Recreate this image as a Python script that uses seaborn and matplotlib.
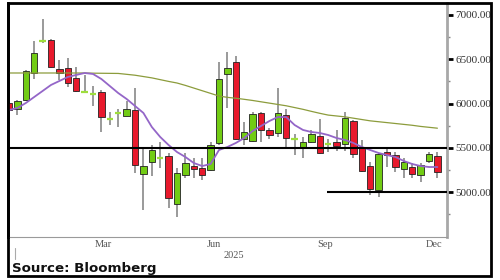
import numpy as np
import pandas as pd
import matplotlib
matplotlib.use("Agg")
import matplotlib.pyplot as plt
import matplotlib.dates as mdates
from matplotlib.patches import Rectangle
from matplotlib.transforms import blended_transform_factory
import seaborn as sns

# ---------------- data (weekly candles, 2025) ----------------
first_week = "2024-12-27"
opens = [6006, 5939, 6040, 6345, 6705, 6718, 6390, 6402, 6289, 6125,
         6100, 6131, 5820, 5890, 5860, 5927, 5205, 5340, 5380, 5408,
         4866, 5194, 5295, 5273, 5250, 5555, 6334, 6469, 5600, 5577,
         5894, 5702, 5668, 5871, 5595, 5498, 5566, 5634, 5545, 5566,
         5544, 5803, 5498, 5295, 5024, 5450, 5419, 5261, 5284, 5194,
         5352, 5408]
highs = [6020, 6040, 6380, 6706, 6955, 6725, 6492, 6515, 6413, 6323,
         6198, 6153, 5905, 5939, 6029, 6176, 5498, 5532, 5566, 5442,
         5273, 5442, 5386, 5386, 5566, 6469, 6582, 6537, 5792, 5905,
         5905, 5724, 6176, 5939, 5656, 5623, 5702, 5826, 5600, 5702,
         5905, 5810, 5589, 5340, 5440, 5510, 5453, 5386, 5329, 5329,
         5453, 5453]
lows = [5915, 5871, 6030, 6277, 6685, 6402, 6266, 6187, 6131, 6120,
        5973, 5679, 5758, 5736, 5855, 5216, 4798, 5182, 5273, 4821,
        4719, 5160, 5160, 5137, 5239, 5532, 5950, 5589, 5532, 5566,
        5566, 5600, 5623, 5498, 5419, 5386, 5555, 5431, 5453, 5465,
        5465, 5386, 5227, 4968, 4945, 5284, 5227, 5160, 5160, 5115,
        5329, 5160]
closes = [5927, 6029, 6368, 6571, 6718, 6413, 6345, 6232, 6142, 6135,
          6110, 5848, 5830, 5900, 5939, 5306, 5295, 5476, 5390, 4934,
          5216, 5329, 5261, 5194, 5532, 6277, 6402, 5600, 5679, 5882,
          5702, 5645, 5894, 5611, 5605, 5566, 5656, 5442, 5550, 5521,
          5837, 5431, 5239, 5036, 5431, 5420, 5284, 5340, 5205, 5306,
          5431, 5227]
ma_short = [5927, 5950, 6006, 6074, 6142, 6210, 6255, 6300, 6323, 6345,
            6334, 6277, 6198, 6119, 6052, 5973, 5894, 5736, 5623, 5532,
            5453, 5397, 5329, 5295, 5318, 5476, 5510, 5555, 5611, 5690,
            5747, 5803, 5848, 5848, 5758, 5702, 5679, 5668, 5645, 5611,
            5589, 5555, 5510, 5476, 5442, 5419, 5397, 5352, 5318, 5295,
            5284, 5284]
ma_long = [6345, 6345, 6345, 6345, 6345, 6345, 6345, 6345, 6345, 6345,
           6343, 6342, 6341, 6340, 6330, 6320, 6305, 6290, 6270, 6250,
           6232, 6205, 6175, 6145, 6115, 6085, 6070, 6060, 6048, 6035,
           6020, 6005, 5990, 5975, 5955, 5935, 5912, 5890, 5870, 5860,
           5850, 5835, 5820, 5805, 5795, 5785, 5775, 5765, 5755, 5742,
           5732, 5722]
resistance_level = 5500
support_level = 5000
support_start_week = 38
y_major = [5000, 5500, 6000, 6500, 7000]
y_minor = [4750, 5250, 5750, 6250, 6750]
month_labels = ["Mar", "Jun", "Sep", "Dec"]
month_label_dates = ["2025-03-16", "2025-06-16", "2025-09-16", "2025-12-16"]
year_label = "2025"
source_text = "Source: Bloomberg"

# ---------------- styling ----------------
sns.set_style("white")
plt.rcParams["font.family"] = ["DejaVu Sans"]

GREEN = "#72cc14"
RED = "#e8192c"
WICK = "#9a9a9a"
PURPLE = "#9466c8"
OLIVE = "#8c9c3c"
DOJI = "#9ede3c"

dates = pd.date_range(first_week, periods=len(opens), freq="7D")
df = pd.DataFrame({"date": dates, "open": opens, "high": highs,
                   "low": lows, "close": closes,
                   "ma_short": ma_short, "ma_long": ma_long})

W, H = 500, 280
fig = plt.figure(figsize=(W / 100, H / 100), dpi=100)
ax = fig.add_axes([8 / W, 1 - 237 / H, (447 - 8) / W, (237 - 3) / H])

# wicks
ax.vlines(df["date"], df["low"], df["high"], color=WICK, lw=1.4, zorder=2)

# bodies
body_w = pd.Timedelta(days=5.4)
for d, o, c in zip(df["date"], df["open"], df["close"]):
    if abs(c - o) < 20:
        ax.hlines((o + c) / 2, d - body_w / 2, d + body_w / 2,
                  color=DOJI, lw=1.6, zorder=3)
    else:
        col = GREEN if c > o else RED
        ax.bar(d, abs(c - o), bottom=min(o, c), width=body_w, color=col,
               edgecolor="#222222", linewidth=0.6, zorder=3)

# moving averages
sns.lineplot(data=df, x="date", y="ma_long", ax=ax, color=OLIVE, lw=0.9,
             zorder=4)
sns.lineplot(data=df, x="date", y="ma_short", ax=ax, color=PURPLE, lw=1.3,
             zorder=5)

# support / resistance
ax.axhline(resistance_level, color="black", lw=1.5, zorder=6)
ax.hlines(support_level, dates[support_start_week] - pd.Timedelta(days=1),
          pd.Timestamp("2025-12-28"), color="black", lw=1.5, zorder=6)

ax.set_xlim(pd.Timestamp("2024-12-26 04:00"), pd.Timestamp("2025-12-27"))
ax.set_ylim(4494, 7135)
ax.set_xlabel("")
ax.set_ylabel("")

# spines
ax.spines["top"].set_visible(False)
ax.spines["left"].set_color("black")
ax.spines["left"].set_linewidth(2)
ax.spines["right"].set_visible(True)
ax.spines["right"].set_color("#a8a8a8")
ax.spines["right"].set_linewidth(2)
ax.spines["bottom"].set_color("#9a9a9a")
ax.spines["bottom"].set_linewidth(0.8)

# y axis on right
ax.yaxis.tick_right()
ax.set_yticks(y_major)
ax.set_yticklabels([f"{v:.2f}" for v in y_major])
ax.set_yticks(y_minor, minor=True)
ax.tick_params(axis="y", which="major", direction="out", length=4,
               width=2, color="black", labelsize=8, labelcolor="#333333",
               pad=1.8)
ax.tick_params(axis="y", which="minor", direction="out", length=2.5,
               width=1, color="#888888")
for t in ax.get_yticklabels():
    t.set_fontfamily("Liberation Serif")

# x axis
ax.xaxis.set_major_locator(mdates.MonthLocator())
ax.xaxis.set_major_formatter(plt.NullFormatter())
ax.set_xticks(pd.to_datetime(month_label_dates), minor=True)
ax.set_xticklabels(month_labels, minor=True)
ax.tick_params(axis="x", which="major", direction="out", length=2.5,
               width=1, color="#999999")
ax.tick_params(axis="x", which="minor", length=0, labelsize=7.5,
               labelcolor="#555555", pad=2.5)
for t in ax.get_xticklabels(minor=True):
    t.set_fontfamily("Liberation Serif")

trans = blended_transform_factory(ax.transData, ax.transAxes)
ax.text(pd.Timestamp("2025-07-02"), -0.077, year_label, transform=trans,
        ha="center", va="center", fontsize=7.5, color="#555555",
        fontfamily="Liberation Serif")
ax.plot([pd.Timestamp("2025-01-01")] * 2, [-0.047, -0.094], transform=trans,
        color="#aaaaaa", lw=0.8, clip_on=False)

# cover overflow past the frame, draw frame
fig.patches.append(Rectangle((491 / W, 0), 9 / W, 1, transform=fig.transFigure,
                             facecolor="white", edgecolor="none", zorder=5))
fig.patches.append(Rectangle((0, 0), 1, 1 - 277 / H, transform=fig.transFigure,
                             facecolor="white", edgecolor="none", zorder=5))
fig.patches.append(Rectangle((8 / W, 1 - 276 / H), (491 - 8) / W,
                             (276 - 3) / H, transform=fig.transFigure,
                             facecolor="none", edgecolor="black", lw=2,
                             zorder=6))

fig.text(12 / W, 1 - 272 / H, source_text, fontsize=9.6, fontweight="bold",
         color="#111111", ha="left", va="baseline", zorder=7)

fig.savefig("out.png", dpi=100, facecolor="white")
